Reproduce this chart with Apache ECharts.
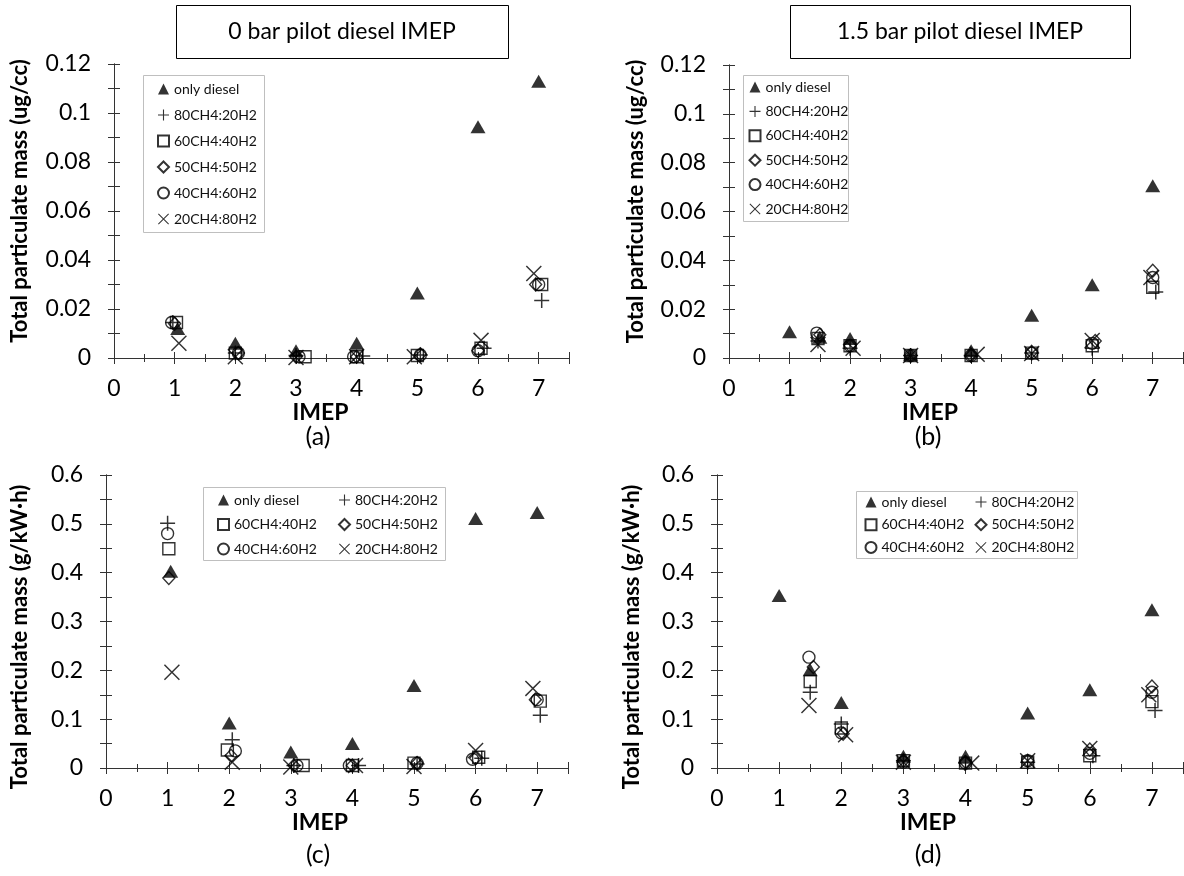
<!DOCTYPE html>
<html>
<head>
<meta charset="utf-8">
<script src="https://cdn.jsdelivr.net/npm/echarts@6/dist/echarts.min.js"></script>
<style>html,body{margin:0;padding:0;background:#fff}#c{width:1184px;height:876px}</style>
</head>
<body>
<div id="c"></div>
<script>
// ---------- series names ----------
const seriesNames = ['only diesel', '80CH4:20H2', '60CH4:40H2', '50CH4:50H2', '40CH4:60H2', '20CH4:80H2'];
const xTickLabels = [0, 1, 2, 3, 4, 5, 6, 7];

// ---------- panel (a): 0 bar pilot, ug/cc ----------
const aX_diesel = [1.05, 2, 3, 4, 5, 6, 7];
const aY_diesel = [0.012, 0.006, 0.003, 0.006, 0.0265, 0.0944, 0.113];
const aX_80 = [0.97, 2, 3, 4.1, 5.05, 6.1, 7.05];
const aY_80 = [0.0145, 0.002, 0.001, 0.0008, 0.0012, 0.004, 0.0235];
const aX_60 = [1.03, 2, 3.15, 4, 5, 6.05, 7.05];
const aY_60 = [0.0145, 0.002, 0.0005, 0.0005, 0.001, 0.004, 0.030];
const aX_50 = [1, 2.05, 3, 4, 5.05, 6, 6.95];
const aY_50 = [0.014, 0.002, 0.0005, 0.0005, 0.0015, 0.003, 0.030];
const aX_40 = [0.95, 2.05, 3.05, 3.95, 5.05, 6, 7];
const aY_40 = [0.0145, 0.002, 0.0005, 0.0005, 0.0012, 0.003, 0.030];
const aX_20 = [1.07, 2, 3, 4, 4.95, 6.05, 6.92];
const aY_20 = [0.006, 0.0005, 0.0002, 0.0005, 0.0005, 0.0072, 0.0345];

// ---------- panel (b): 1.5 bar pilot, ug/cc ----------
const bX_diesel = [1, 1.5, 2, 3, 4, 5, 6, 7];
const bY_diesel = [0.0107, 0.0085, 0.008, 0.0015, 0.003, 0.0175, 0.030, 0.0705];
const bX_80 = [1.47, 2, 3, 4, 5, 6, 7.05];
const bY_80 = [0.007, 0.004, 0.001, 0.001, 0.002, 0.004, 0.027];
const bX_60 = [1.47, 2, 3, 4, 5, 6, 7];
const bY_60 = [0.008, 0.005, 0.001, 0.001, 0.002, 0.005, 0.029];
const bX_50 = [1.5, 2, 3, 4, 5, 6.05, 7];
const bY_50 = [0.0095, 0.005, 0.001, 0.001, 0.0025, 0.007, 0.0357];
const bX_40 = [1.45, 2, 3, 4, 5, 6, 7];
const bY_40 = [0.0102, 0.005, 0.001, 0.001, 0.002, 0.006, 0.033];
const bX_20 = [1.47, 2.05, 3, 4.1, 5, 6, 6.97];
const bY_20 = [0.0055, 0.004, 0.001, 0.0015, 0.0018, 0.0072, 0.033];

// ---------- panel (c): 0 bar pilot, g/kW·h ----------
const cX_diesel = [1.05, 2, 3, 4, 5, 6, 7];
const cY_diesel = [0.403, 0.092, 0.033, 0.05, 0.169, 0.511, 0.523];
const cX_80 = [1, 2.05, 3.05, 4.1, 5.05, 6.1, 7.05];
const cY_80 = [0.501, 0.058, 0.005, 0.005, 0.008, 0.02, 0.108];
const cX_60 = [1.02, 1.97, 3.2, 4, 5, 6.05, 7.05];
const cY_60 = [0.449, 0.037, 0.005, 0.005, 0.01, 0.022, 0.137];
const cX_50 = [1.02, 2.03, 3.05, 4, 5.05, 6, 6.97];
const cY_50 = [0.389, 0.025, 0.005, 0.005, 0.01, 0.02, 0.14];
const cX_40 = [1, 2.1, 3.1, 3.95, 5.05, 5.95, 7];
const cY_40 = [0.48, 0.035, 0.005, 0.005, 0.01, 0.018, 0.14];
const cX_20 = [1.07, 2.05, 3, 4.05, 5, 6, 6.93];
const cY_20 = [0.196, 0.012, 0.002, 0.005, 0.003, 0.036, 0.163];

// ---------- panel (d): 1.5 bar pilot, g/kW·h ----------
const dX_diesel = [1, 1.5, 2, 3, 4, 5, 6, 7];
const dY_diesel = [0.353, 0.201, 0.134, 0.024, 0.024, 0.1125, 0.16, 0.324];
const dX_80 = [1.5, 2, 3, 4, 5, 6.05, 7.05];
const dY_80 = [0.155, 0.09, 0.015, 0.01, 0.012, 0.025, 0.118];
const dX_60 = [1.5, 2, 3, 4, 5, 6, 7];
const dY_60 = [0.177, 0.082, 0.015, 0.01, 0.012, 0.025, 0.136];
const dX_50 = [1.55, 2.03, 3, 4, 5, 6, 7];
const dY_50 = [0.207, 0.07, 0.015, 0.012, 0.015, 0.038, 0.167];
const dX_40 = [1.48, 2, 3, 4, 5, 6, 7];
const dY_40 = [0.227, 0.072, 0.012, 0.01, 0.015, 0.03, 0.155];
const dX_20 = [1.48, 2.07, 3, 4.1, 5, 6, 6.95];
const dY_20 = [0.128, 0.068, 0.012, 0.01, 0.015, 0.04, 0.15];

const panelTitles = ['0 bar pilot diesel IMEP', '1.5 bar pilot diesel IMEP'];
const yNames = ['Total particulate mass (ug/cc)', 'Total particulate mass (ug/cc)',
                'Total particulate mass (g/kW\u00b7h)', 'Total particulate mass (g/kW\u00b7h)'];
const subLabels = ['(a)', '(b)', '(c)', '(d)'];

// ---------- build ----------
const FONT = 'Lato, "Open Sans", "Liberation Sans", sans-serif';
const zip = (xs, ys) => xs.map((v, i) => [v, ys[i]]);
const panels = [
  [zip(aX_diesel, aY_diesel), zip(aX_80, aY_80), zip(aX_60, aY_60), zip(aX_50, aY_50), zip(aX_40, aY_40), zip(aX_20, aY_20)],
  [zip(bX_diesel, bY_diesel), zip(bX_80, bY_80), zip(bX_60, bY_60), zip(bX_50, bY_50), zip(bX_40, bY_40), zip(bX_20, bY_20)],
  [zip(cX_diesel, cY_diesel), zip(cX_80, cY_80), zip(cX_60, cY_60), zip(cX_50, cY_50), zip(cX_40, cY_40), zip(cX_20, cY_20)],
  [zip(dX_diesel, dY_diesel), zip(dX_80, dY_80), zip(dX_60, dY_60), zip(dX_50, dY_50), zip(dX_40, dY_40), zip(dX_20, dY_20)]
];

const PLUS = 'path://M0,4.5H4.5V0H5.5V4.5H10V5.5H5.5V10H4.5V5.5H0Z';
const CROSS = 'path://M0,0.65L0.65,0L5,4.35L9.35,0L10,0.65L5.65,5L10,9.35L9.35,10L5,5.65L0.65,10L0,9.35L4.35,5Z';
const hollow = {color: 'rgba(0,0,0,0)', borderColor: '#000', borderWidth: 1.4};
const solid = {color: '#000', borderWidth: 0};
const markers = [
  {symbol: 'triangle', symbolSize: [15, 13], itemStyle: solid},
  {symbol: PLUS, symbolSize: [15, 15], itemStyle: solid},
  {symbol: 'rect', symbolSize: [12, 12], itemStyle: hollow},
  {symbol: 'diamond', symbolSize: [12, 13], itemStyle: hollow},
  {symbol: 'circle', symbolSize: [12, 12], itemStyle: hollow},
  {symbol: CROSS, symbolSize: [16, 16], itemStyle: solid}
];

const grids = [
  {left: 114, top: 64, width: 455, height: 294},
  {left: 729, top: 65, width: 454, height: 293},
  {left: 106, top: 475, width: 462, height: 293},
  {left: 717, top: 475, width: 466, height: 293}
];
const yMax = [0.12, 0.12, 0.6, 0.6];
const yInt = [0.02, 0.02, 0.1, 0.1];
const yNameGap = [83, 82, 75, 74];
const yNamePad = [[0, 0, 0, 20], [0, 0, 0, 20], [0, 31, 0, 0], [0, 31, 0, 0]];
const xNamePad = [[0, 42, 0, 0], [0, 52, 0, 0], [0, 34, 0, 0], [0, 44, 0, 0]];

const axisLine = {show: true, lineStyle: {color: '#333', width: 1}};
const xAxes = [], yAxes = [], series = [];
grids.forEach((g, i) => {
  const baseX = {
    type: 'value', gridIndex: i, min: 0, max: 7.5, interval: 1,
    axisLine, splitLine: {show: false},
    axisTick: {show: true, inside: true, length: 6, lineStyle: {color: '#333'}},
    minorTick: {show: true, splitNumber: 2, length: 4, lineStyle: {color: '#333'}}
  };
  xAxes.push(Object.assign({}, baseX, {
    position: 'bottom',
    name: 'IMEP', nameLocation: 'middle', nameGap: 43,
    nameTextStyle: {fontFamily: FONT, fontSize: 23, fontWeight: 'bold', color: '#000', padding: xNamePad[i]},
    axisLabel: {show: true, margin: 19, fontFamily: FONT, fontSize: 23, color: '#000', showMaxLabel: false,
      formatter: v => (xTickLabels.indexOf(v) >= 0 ? String(v) : '')}
  }));
  xAxes.push(Object.assign({}, baseX, {position: 'top', axisLabel: {show: false}}));
  const baseY = {
    type: 'value', gridIndex: i, min: 0, max: yMax[i], interval: yInt[i],
    axisLine, splitLine: {show: false},
    axisTick: {show: true, inside: true, length: 6, lineStyle: {color: '#333'}},
    minorTick: {show: true, splitNumber: 2, length: 6, lineStyle: {color: '#333'}}
  };
  yAxes.push(Object.assign({}, baseY, {
    position: 'left',
    name: yNames[i], nameLocation: 'middle', nameGap: yNameGap[i], nameRotate: 90,
    nameTextStyle: {fontFamily: FONT, fontSize: 22, fontWeight: 'bold', color: '#000', padding: yNamePad[i]},
    axisLabel: {show: true, margin: 23, fontFamily: FONT, fontSize: 23, color: '#000'}
  }));
  yAxes.push(Object.assign({}, baseY, {position: 'right', axisLabel: {show: false}}));
  panels[i].forEach((data, k) => {
    series.push({
      type: 'scatter', name: seriesNames[k], xAxisIndex: 2 * i, yAxisIndex: 2 * i,
      data, symbol: markers[k].symbol, symbolSize: markers[k].symbolSize,
      itemStyle: markers[k].itemStyle, emphasis: {disabled: true}, z: 3
    });
  });
});

const legText = {fontFamily: FONT, fontSize: 14, color: '#111', lineHeight: 14};
const legBase = {orient: 'vertical', padding: 0, itemWidth: 11, itemHeight: 11, selectedMode: false, textStyle: legText};
const legends = [
  Object.assign({}, legBase, {left: 157, top: 82, itemGap: 12, data: seriesNames}),
  Object.assign({}, legBase, {left: 748.5, top: 80, itemGap: 10.4, data: seriesNames}),
  Object.assign({}, legBase, {left: 217, top: 493, itemGap: 10.5, data: [seriesNames[0], seriesNames[2], seriesNames[4]]}),
  Object.assign({}, legBase, {left: 338, top: 493, itemGap: 10.5, data: [seriesNames[1], seriesNames[3], seriesNames[5]]}),
  Object.assign({}, legBase, {left: 864.5, top: 495, itemGap: 8.7, data: [seriesNames[0], seriesNames[2], seriesNames[4]]}),
  Object.assign({}, legBase, {left: 974.5, top: 495, itemGap: 8.7, data: [seriesNames[1], seriesNames[3], seriesNames[5]]})
];

const boxStyle = {fill: 'rgba(0,0,0,0)', stroke: '#bfbfbf', lineWidth: 1};
const txt = (x, y, s, size) => ({type: 'text', x, y, silent: true,
  style: {text: s, font: size + 'px Lato, sans-serif', fill: '#000', align: 'center', verticalAlign: 'middle',
          textAlign: 'center', textVerticalAlign: 'middle'}});
const graphic = [
  {type: 'rect', shape: {x: 143.5, y: 75.5, width: 121, height: 157}, style: boxStyle, silent: true},
  {type: 'rect', shape: {x: 743.5, y: 75.5, width: 105, height: 146}, style: boxStyle, silent: true},
  {type: 'rect', shape: {x: 203.5, y: 487.5, width: 242, height: 73}, style: boxStyle, silent: true},
  {type: 'rect', shape: {x: 856.5, y: 491.5, width: 221, height: 67}, style: boxStyle, silent: true},
  {type: 'rect', shape: {x: 176.5, y: 5.5, width: 332, height: 53}, style: {fill: '#fff', stroke: '#000', lineWidth: 1}, silent: true},
  {type: 'rect', shape: {x: 790.5, y: 5.5, width: 340, height: 53}, style: {fill: '#fff', stroke: '#000', lineWidth: 1}, silent: true},
  txt(342, 32, panelTitles[0], 23),
  txt(960, 32, panelTitles[1], 23),
  txt(318, 437, subLabels[0], 25),
  txt(928, 437, subLabels[1], 25),
  txt(318, 855, subLabels[2], 25),
  txt(928, 855, subLabels[3], 25)
];

const chart = echarts.init(document.getElementById('c'), null, {renderer: 'canvas'});
chart.setOption({
  backgroundColor: '#fff',
  animation: false,
  grid: grids,
  xAxis: xAxes,
  yAxis: yAxes,
  legend: legends,
  graphic,
  series
});
</script>
</body>
</html>
